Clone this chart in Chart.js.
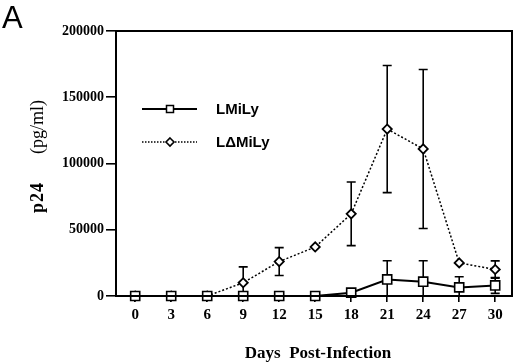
<!DOCTYPE html>
<html>
<head>
  <meta charset="utf-8">
  <title>p24 chart</title>
  <style>
    html, body { margin: 0; padding: 0; background: #fff; }
    #wrap { position: relative; width: 520px; height: 364px; }
  </style>
</head>
<body>
  <div id="wrap">
    <canvas id="myChart" width="520" height="364"></canvas>
  </div>

  <script src="https://cdn.jsdelivr.net/npm/chart.js"></script>
  <script>
    // data
    const days = [0, 3, 6, 9, 12, 15, 18, 21, 24, 27, 30];
    const lmily = [0, 0, 0, 0, 0, 0, 2500, 12500, 10800, 6500, 8000];
    const lmilyErr = [0, 0, 0, 0, 0, 0, 0, 14100, 15800, 8000, 6000];
    const ldmily = [0, 0, 0, 10000, 26000, 37000, 62000, 126000, 111000, 25000, 20000];
    const ldmilyErr = [0, 0, 0, 12000, 10500, 0, 24000, 48000, 60000, 0, 6500];
    const yTicks = [0, 50000, 100000, 150000, 200000];
    const seriesNames = ['LMiLy', 'L\u0394MiLy'];

    const serif = '"Liberation Serif", "Times New Roman", serif';
    const sans = '"Liberation Sans", Arial, sans-serif';

    const toXY = (vals) => vals.map((v, i) => ({ x: days[i], y: v }));

    // error bars, frame, legend, titles
    const extras = {
      id: 'extras',
      beforeDatasetsDraw(chart) {
        const ctx = chart.ctx;
        const y = chart.scales.y;
        const errs = [lmilyErr, ldmilyErr];
        ctx.save();
        ctx.strokeStyle = '#000';
        ctx.lineWidth = 1.6;
        chart.data.datasets.forEach((ds, di) => {
          const meta = chart.getDatasetMeta(di);
          meta.data.forEach((pt, i) => {
            const e = errs[di][i];
            if (!e) return;
            const v = ds.data[i].y;
            const top = y.getPixelForValue(v + e);
            const lo = v - e;
            ctx.beginPath();
            ctx.moveTo(pt.x - 4.5, top);
            ctx.lineTo(pt.x + 4.5, top);
            ctx.moveTo(pt.x, top);
            if (lo > 0) {
              const bot = y.getPixelForValue(lo);
              ctx.lineTo(pt.x, bot);
              ctx.moveTo(pt.x - 4.5, bot);
              ctx.lineTo(pt.x + 4.5, bot);
            } else {
              ctx.lineTo(pt.x, y.getPixelForValue(0));
            }
            ctx.stroke();
          });
        });
        ctx.restore();
      },
      afterDraw(chart) {
        const ctx = chart.ctx;
        const a = chart.chartArea;
        ctx.save();
        ctx.strokeStyle = '#000';
        ctx.lineWidth = 2;
        ctx.strokeRect(a.left, a.top, a.right - a.left, a.bottom - a.top);

        // legend
        const lx0 = 142, lx1 = 197, mx = 170;
        ctx.lineWidth = 1.8;
        ctx.setLineDash([]);
        ctx.beginPath(); ctx.moveTo(lx0, 109); ctx.lineTo(lx1, 109); ctx.stroke();
        ctx.fillStyle = '#fff';
        ctx.lineWidth = 1.5;
        ctx.fillRect(mx - 3.5, 105.5, 7, 7);
        ctx.strokeRect(mx - 3.5, 105.5, 7, 7);

        ctx.lineWidth = 1.4;
        ctx.setLineDash([1.5, 1.5]);
        ctx.beginPath(); ctx.moveTo(lx0, 142); ctx.lineTo(lx1, 142); ctx.stroke();
        ctx.setLineDash([]);
        ctx.lineWidth = 1.6;
        ctx.beginPath();
        ctx.moveTo(mx, 138); ctx.lineTo(mx + 4, 142); ctx.lineTo(mx, 146); ctx.lineTo(mx - 4, 142);
        ctx.closePath();
        ctx.fill(); ctx.stroke();

        ctx.fillStyle = '#000';
        ctx.font = 'bold 15px ' + sans;
        ctx.textBaseline = 'middle';
        ctx.textAlign = 'left';
        ctx.fillText(seriesNames[0], 216, 110);
        ctx.fillText(seriesNames[1], 216, 143);

        // panel letter
        ctx.font = '31px ' + sans;
        ctx.textBaseline = 'alphabetic';
        ctx.fillText('A', 2, 28);

        // x title
        ctx.font = 'bold 17px ' + serif;
        ctx.textAlign = 'center';
        ctx.fillText('Days  Post-Infection', 318, 358);

        // y title, bold "p24" + regular "(pg/ml)"
        ctx.translate(43, 0);
        ctx.rotate(-Math.PI / 2);
        ctx.textBaseline = 'alphabetic';
        ctx.textAlign = 'left';
        ctx.font = 'bold 18px ' + serif;
        ctx.letterSpacing = '1px';
        ctx.fillText('p24', -213, 0);
        ctx.letterSpacing = '0px';
        ctx.font = '18px ' + serif;
        ctx.fillText('(pg/ml)', -154, 0);
        ctx.restore();
      }
    };

    const config = {
      type: 'line',
      data: {
        datasets: [{
          label: seriesNames[0],
          data: toXY(lmily),
          borderColor: '#000',
          borderWidth: 2,
          pointStyle: 'rect',
          pointRadius: 6.4,
          pointBorderWidth: 1.6,
          pointBackgroundColor: '#fff',
          pointBorderColor: '#000',
          clip: false,
          tension: 0
        }, {
          label: seriesNames[1],
          data: toXY(ldmily),
          borderColor: '#000',
          borderWidth: 1.5,
          borderDash: [2, 2],
          pointStyle: 'rectRot',
          pointRadius: 4.6,
          pointBorderWidth: 1.8,
          pointBackgroundColor: '#fff',
          pointBorderColor: '#000',
          clip: false,
          tension: 0
        }]
      },
      options: {
        responsive: false,
        devicePixelRatio: 1,
        animation: false,
        layout: { padding: { top: 31, right: 4, left: 0, bottom: 0 } },
        plugins: { legend: { display: false }, tooltip: { enabled: false } },
        scales: {
          x: {
            type: 'linear',
            min: -1.6,
            max: 31.4,
            afterFit(scale) { scale.height = 68; },
            afterBuildTicks(scale) { scale.ticks = days.map(v => ({ value: v })); },
            grid: { drawOnChartArea: false, drawTicks: true, tickLength: 6, color: '#000', lineWidth: 1.6 },
            border: { display: true, color: '#000', width: 2 },
            ticks: {
              color: '#000',
              padding: 4,
              maxRotation: 0,
              font: { family: serif, size: 15, weight: 'bold' },
              callback: (v) => String(v)
            }
          },
          y: {
            min: 0,
            max: 200000,
            afterFit(scale) { scale.width = 116; },
            afterBuildTicks(scale) { scale.ticks = yTicks.map(v => ({ value: v })); },
            grid: { drawOnChartArea: false, drawTicks: true, tickLength: 10, color: '#000', lineWidth: 1.6 },
            border: { display: true, color: '#000', width: 2 },
            ticks: {
              color: '#000',
              padding: 2,
              font: { family: serif, size: 14, weight: 'bold' },
              callback: (v) => String(v)
            }
          }
        }
      },
      plugins: [extras]
    };

    var ctx = document.getElementById('myChart').getContext('2d');
    var myChart = new Chart(ctx, config);
  </script>
</body>
</html>
